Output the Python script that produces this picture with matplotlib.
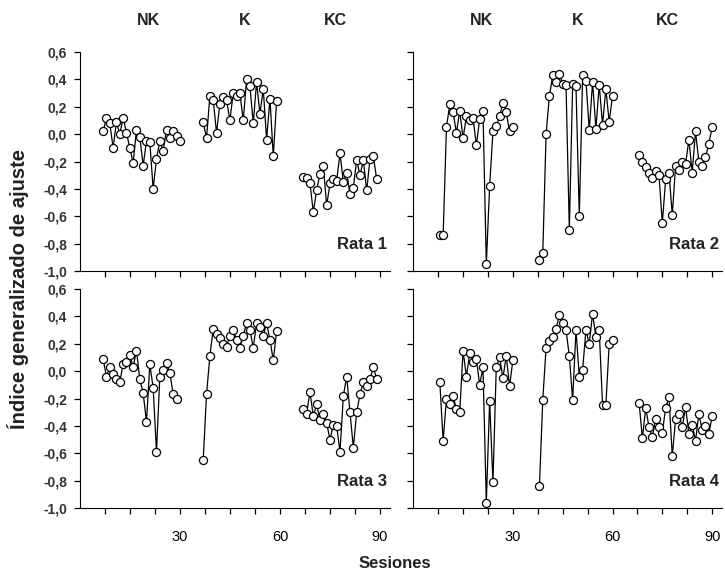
import matplotlib
matplotlib.use("Agg")
import matplotlib.pyplot as plt
import numpy as np

plt.rcParams["font.family"] = ["Liberation Sans", "DejaVu Sans"]

fases = ["NK", "K", "KC"]
ratas = ["Rata 1", "Rata 2", "Rata 3", "Rata 4"]

# primera sesion de cada fase (NK, K, KC) por rata
inicio_rata1 = [7, 37, 67]
inicio_rata2 = [8, 38, 68]
inicio_rata3 = [7, 37, 67]
inicio_rata4 = [8, 38, 68]

rata1_nk = [0.02, 0.12, 0.08, -0.10, 0.09, 0.00, 0.12, 0.01, -0.10, -0.21, 0.03, -0.02,
            -0.23, -0.05, -0.06, -0.40, -0.18, -0.05, -0.12, 0.03, -0.03, 0.02, -0.01, -0.05]
rata1_k = [0.09, -0.03, 0.28, 0.25, 0.01, 0.22, 0.27, 0.25, 0.10, 0.30, 0.28, 0.30,
           0.10, 0.40, 0.35, 0.08, 0.38, 0.15, 0.33, -0.04, 0.26, -0.16, 0.24]
rata1_kc = [-0.31, -0.32, -0.36, -0.57, -0.41, -0.29, -0.23, -0.52, -0.36, -0.33, -0.34, -0.14,
            -0.35, -0.28, -0.44, -0.39, -0.19, -0.30, -0.19, -0.41, -0.18, -0.16, -0.33]

rata2_nk = [-0.74, -0.74, 0.05, 0.22, 0.16, 0.01, 0.17, -0.03, 0.13, 0.10, 0.12, -0.08,
            0.11, 0.17, -0.95, -0.38, 0.02, 0.06, 0.13, 0.23, 0.16, 0.02, 0.05]
rata2_k = [-0.92, -0.87, 0.00, 0.28, 0.43, 0.38, 0.44, 0.37, 0.36, -0.70, 0.37, 0.35,
           -0.60, 0.43, 0.39, 0.03, 0.38, 0.04, 0.36, 0.07, 0.33, 0.09, 0.28]
rata2_kc = [-0.15, -0.20, -0.24, -0.28, -0.32, -0.27, -0.30, -0.65, -0.33, -0.28, -0.59, -0.23,
            -0.26, -0.20, -0.22, -0.04, -0.28, 0.02, -0.20, -0.23, -0.17, -0.07, 0.05]

rata3_nk = [0.09, -0.04, 0.03, -0.02, -0.06, -0.08, 0.05, 0.07, 0.12, 0.03, 0.15, -0.06,
            -0.16, -0.37, 0.05, -0.12, -0.59, -0.04, 0.01, 0.06, -0.01, -0.17, -0.20]
rata3_k = [-0.65, -0.17, 0.11, 0.31, 0.27, 0.24, 0.20, 0.18, 0.26, 0.30, 0.23, 0.17,
           0.26, 0.35, 0.30, 0.17, 0.35, 0.32, 0.26, 0.35, 0.23, 0.08, 0.29]
rata3_kc = [-0.28, -0.31, -0.15, -0.33, -0.24, -0.36, -0.31, -0.38, -0.50, -0.39, -0.40, -0.59,
            -0.18, -0.04, -0.30, -0.56, -0.30, -0.17, -0.08, -0.11, -0.06, 0.03, -0.06]

rata4_nk = [-0.08, -0.51, -0.20, -0.24, -0.18, -0.28, -0.30, 0.15, -0.04, 0.13, 0.07, 0.09,
            -0.10, 0.03, -0.96, -0.22, -0.81, 0.03, 0.10, -0.05, 0.11, -0.11, 0.08]
rata4_k = [-0.84, -0.21, 0.17, 0.22, 0.25, 0.31, 0.41, 0.35, 0.30, 0.11, -0.21, 0.30,
           -0.04, 0.01, 0.30, 0.20, 0.42, 0.25, 0.30, -0.25, -0.25, 0.20, 0.23]
rata4_kc = [-0.23, -0.49, -0.27, -0.41, -0.48, -0.35, -0.41, -0.45, -0.27, -0.19, -0.62, -0.35,
            -0.31, -0.41, -0.26, -0.46, -0.39, -0.51, -0.31, -0.43, -0.40, -0.46, -0.33]

datos = [
    (inicio_rata1, [rata1_nk, rata1_k, rata1_kc]),
    (inicio_rata2, [rata2_nk, rata2_k, rata2_kc]),
    (inicio_rata3, [rata3_nk, rata3_k, rata3_kc]),
    (inicio_rata4, [rata4_nk, rata4_k, rata4_kc]),
]

fase_x = [20.5, 49.5, 76.5]
yticks = [-1.0, -0.8, -0.6, -0.4, -0.2, 0.0, 0.2, 0.4, 0.6]
xticks = np.arange(7.5, 91, 7.5)

fig = plt.figure(figsize=(7.25, 5.78), dpi=100)
posiciones = [
    [0.110, 0.531, 0.428, 0.379],
    [0.570, 0.531, 0.426, 0.379],
    [0.110, 0.121, 0.428, 0.379],
    [0.570, 0.121, 0.426, 0.379],
]

for i, (pos, (inicios, series)) in enumerate(zip(posiciones, datos)):
    ax = fig.add_axes(pos)
    for ini, vals in zip(inicios, series):
        x = np.arange(ini, ini + len(vals))
        ax.plot(x, vals, color="black", lw=0.9, marker="o", ms=5.8,
                mfc="white", mec="black", mew=0.9)

    ax.set_xlim(0, 93)
    ax.set_ylim(-1.0, 0.6)
    ax.spines["top"].set_visible(False)
    ax.spines["right"].set_visible(False)
    ax.spines["left"].set_bounds(-1.0, 0.6)
    ax.set_xticks(xticks)
    ax.set_xticklabels([f"{int(t)}" if t % 30 == 0 else "" for t in xticks])
    ax.set_yticks(yticks)
    if i % 2 == 0:
        ax.set_yticklabels([f"{v:.1f}".replace(".", ",") for v in yticks],
                           fontweight="bold", fontsize=8.5, color="#333333")
    else:
        ax.set_yticklabels([])
    if i < 2:
        ax.set_xticklabels([])
        tr = ax.get_xaxis_transform()
        for fx, nombre in zip(fase_x, fases):
            ax.text(fx, 1.145, nombre, transform=tr, ha="center", va="center",
                    fontsize=11.5, fontweight="bold", color="#222222")
    ax.tick_params(direction="out", length=4, width=0.9, labelsize=10, pad=5)
    ax.tick_params(axis="x", labelsize=10.5, pad=12)
    ax.text(0.99, 0.12, ratas[i], transform=ax.transAxes, ha="right", va="center",
            fontsize=12, fontweight="bold", color="#222222")

fig.text(0.025, 0.5, "Índice generalizado de ajuste", rotation=90, ha="center",
         va="center", fontsize=14.5, fontweight="bold", color="#222222")
fig.text(0.545, 0.025, "Sesiones", ha="center", va="center", fontsize=12,
         fontweight="bold", color="#222222")

fig.savefig("out.png", dpi=100)
